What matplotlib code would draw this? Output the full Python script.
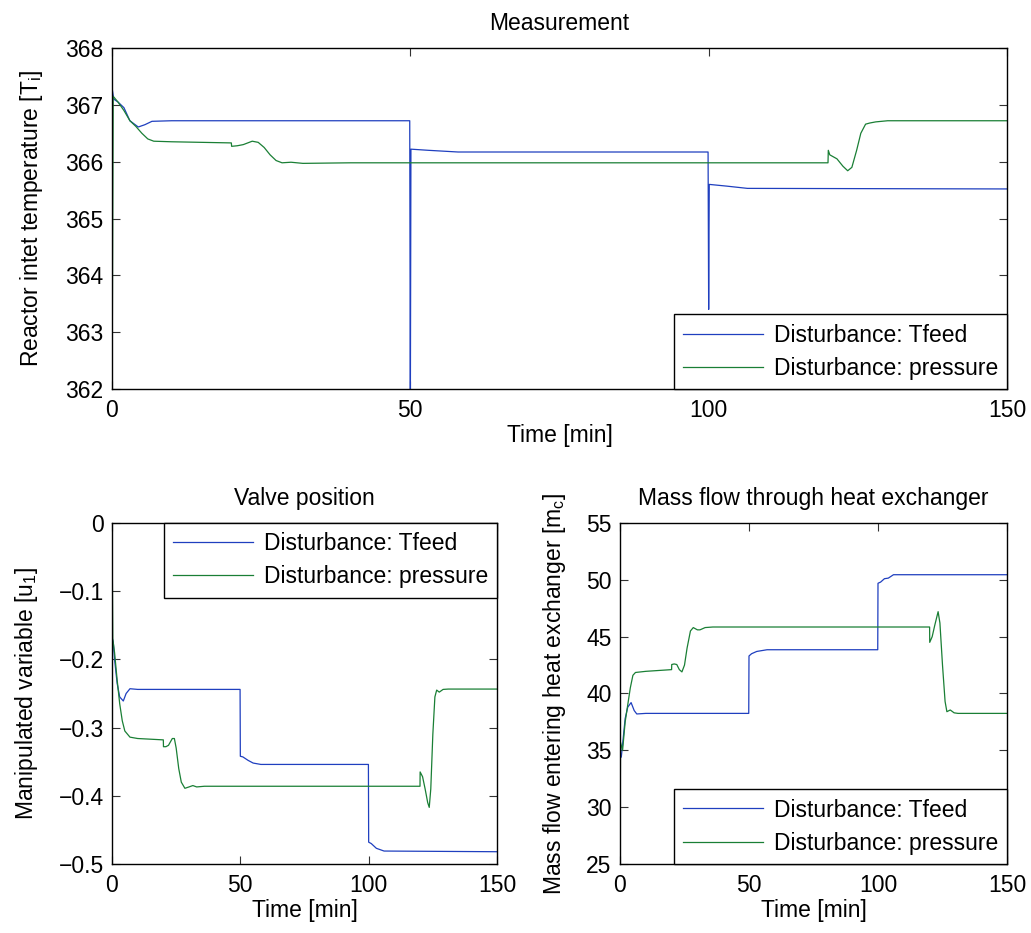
import matplotlib
matplotlib.use("Agg")
import matplotlib.pyplot as plt

plt.rcParams['font.family'] = ['Liberation Sans', 'DejaVu Sans']
plt.rcParams['mathtext.fontset'] = 'custom'
plt.rcParams['mathtext.rm'] = 'Liberation Sans'
plt.rcParams['mathtext.it'] = 'Liberation Sans'

FS = 16.5
BLUE = '#1f3fbf'
GREEN = '#1a7f35'

# ---- Reactor inlet temperature ----
t_temp_feed = [0, 0.3, 1, 2, 3, 4.4, 5.5, 6.7, 10, 49.9, 50, 50.1, 53, 58, 99.9,
               100, 100.1, 103, 106.5, 150]
temp_feed = [367.3, 367.1, 367.05, 366.95, 366.72, 366.61, 366.65, 366.71, 366.72,
             366.72, 361.5, 366.22, 366.2, 366.17, 366.17, 363.4, 365.6, 365.57,
             365.53, 365.52]

t_temp_pres = [0, 0.2, 1, 2, 3, 4, 5, 6, 7, 10, 20, 20.05, 21, 22, 23.5, 24.5,
               25.5, 26.5, 27.5, 28.5, 30, 32, 40, 120, 120.05, 120.3, 121.5,
               122.5, 123.3, 124, 124.8, 125.5, 126.3, 127, 128, 130, 150]
temp_pres = [361.5, 367.15, 367.05, 366.9, 366.72, 366.62, 366.5, 366.4, 366.36,
             366.35, 366.33, 366.27, 366.28, 366.3, 366.36, 366.34, 366.25, 366.12,
             366.02, 365.98, 365.99, 365.97, 365.98, 365.98, 366.2, 366.12, 366.05,
             365.92, 365.84, 365.9, 366.2, 366.5, 366.66, 366.68, 366.7, 366.72,
             366.72]

# ---- Valve position ----
t_valve_feed = [0, 0.5, 1, 2, 3, 4.4, 5.5, 7, 10, 49.9, 50, 51, 53, 55, 58, 99.9,
                100, 101, 103, 106, 150]
valve_feed = [-0.167, -0.175, -0.2, -0.235, -0.255, -0.261, -0.25, -0.243, -0.244,
              -0.244, -0.342, -0.343, -0.348, -0.352, -0.354, -0.354, -0.468,
              -0.47, -0.477, -0.481, -0.482]

t_valve_pres = [0, 0.3, 1, 2, 3, 4, 5, 7, 10, 20, 20.05, 21, 22, 23.5, 24.3, 25,
                26, 27, 28.4, 30, 31.5, 33, 36, 120, 120.05, 121, 122, 123,
                123.6, 124.2, 125, 125.8, 126.5, 127.5, 129, 131, 150]
valve_pres = [0.0, -0.17, -0.19, -0.23, -0.265, -0.29, -0.305, -0.314, -0.316,
              -0.318, -0.328, -0.328, -0.326, -0.316, -0.316, -0.33, -0.36, -0.38,
              -0.389, -0.387, -0.385, -0.387, -0.386, -0.386, -0.365, -0.372,
              -0.39, -0.41, -0.417, -0.39, -0.31, -0.255, -0.245, -0.248, -0.244,
              -0.2435, -0.2435]

# ---- Mass flow through heat exchanger ----
t_flow_feed = [0, 0.5, 1, 2, 3, 4.3, 5.5, 6.5, 10, 49.9, 50, 51, 53, 57, 99.9,
               100, 101, 102.5, 104, 106, 150]
flow_feed = [34.4, 34.4, 35.5, 37.8, 38.8, 39.2, 38.5, 38.2, 38.25, 38.25, 43.3,
             43.5, 43.7, 43.85, 43.85, 49.7, 49.8, 50.1, 50.15, 50.45, 50.45]

t_flow_pres = [0, 0.2, 1, 2, 3, 4, 5, 6, 10, 20, 20.05, 21, 22, 23, 24, 25, 26,
               27.3, 28.4, 30, 31, 33, 36, 120, 120.05, 121, 122, 123.3, 124, 125,
               126, 126.7, 128, 129.5, 131, 150]
flow_pres = [25.0, 35.7, 35.0, 37.5, 39.0, 40.5, 41.6, 41.85, 41.95, 42.1, 42.55,
             42.6, 42.55, 42.1, 41.9, 42.5, 44.0, 45.5, 45.8, 45.6, 45.6, 45.8,
             45.85, 45.85, 44.5, 45.0, 46.0, 47.2, 46.2, 42.5, 39.3, 38.4, 38.55,
             38.3, 38.25, 38.25]

labels = ['Disturbance: Tfeed', 'Disturbance: pressure']
x_ticks = [0, 50, 100, 150]

W, H = 1031, 933
fig = plt.figure(figsize=(W / 100, H / 100), dpi=100)


def px_axes(x0, x1, ytop, ybot):
    return fig.add_axes([x0 / W, 1 - ybot / H, (x1 - x0) / W, (ybot - ytop) / H])


def style(ax):
    ax.tick_params(direction='in', top=True, right=True, length=6, width=0.8,
                   labelsize=FS, color='#333333')
    ax.tick_params(axis='x', pad=7)
    ax.tick_params(axis='y', pad=6)
    for s in ax.spines.values():
        s.set_linewidth(1.0)
        s.set_color('black')
    ax.set_xlim(0, 150)
    ax.set_xticks(x_ticks)


def legend(ax, loc):
    leg = ax.legend(labels, loc=loc, fontsize=FS, fancybox=False, framealpha=1,
                    edgecolor='black', borderaxespad=0, handlelength=3.5,
                    handletextpad=0.45, borderpad=0.4, labelspacing=0.45)
    leg.get_frame().set_linewidth(1.0)


ax1 = px_axes(112, 1007, 48, 389)
ax1.plot(t_temp_feed, temp_feed, color=BLUE, lw=0.9)
ax1.plot(t_temp_pres, temp_pres, color=GREEN, lw=0.9)
style(ax1)
ax1.set_ylim(362, 368)
ax1.set_title('Measurement', fontsize=FS, pad=13)
ax1.set_xlabel('Time [min]', fontsize=FS, labelpad=2)
ax1.set_ylabel('Reactor intet temperature [T$_i$]', fontsize=FS, labelpad=15)
legend(ax1, 'lower right')

ax2 = px_axes(112, 497, 523, 864)
ax2.plot(t_valve_feed, valve_feed, color=BLUE, lw=0.9)
ax2.plot(t_valve_pres, valve_pres, color=GREEN, lw=0.9)
style(ax2)
ax2.set_ylim(-0.5, 0)
ax2.set_yticks([0, -0.1, -0.2, -0.3, -0.4, -0.5])
ax2.set_yticklabels(['0', '\u22120.1', '\u22120.2', '\u22120.3', '\u22120.4', '\u22120.5'])
ax2.set_title('Valve position', fontsize=FS, pad=13)
ax2.set_xlabel('Time [min]', fontsize=FS, labelpad=2)
ax2.set_ylabel('Manipulated variable [u$_1$]', fontsize=FS, labelpad=13)
legend(ax2, 'upper right')

ax3 = px_axes(620, 1007, 523, 864)
ax3.plot(t_flow_feed, flow_feed, color=BLUE, lw=0.9)
ax3.plot(t_flow_pres, flow_pres, color=GREEN, lw=0.9)
style(ax3)
ax3.set_ylim(25, 55)
ax3.set_yticks([25, 30, 35, 40, 45, 50, 55])
ax3.set_title('Mass flow through heat exchanger', fontsize=FS, pad=13)
ax3.set_xlabel('Time [min]', fontsize=FS, labelpad=2)
ax3.set_ylabel('Mass flow entering heat exchanger [m$_c$]', fontsize=FS, labelpad=13)
legend(ax3, 'lower right')

fig.savefig('out.png', dpi=100)
